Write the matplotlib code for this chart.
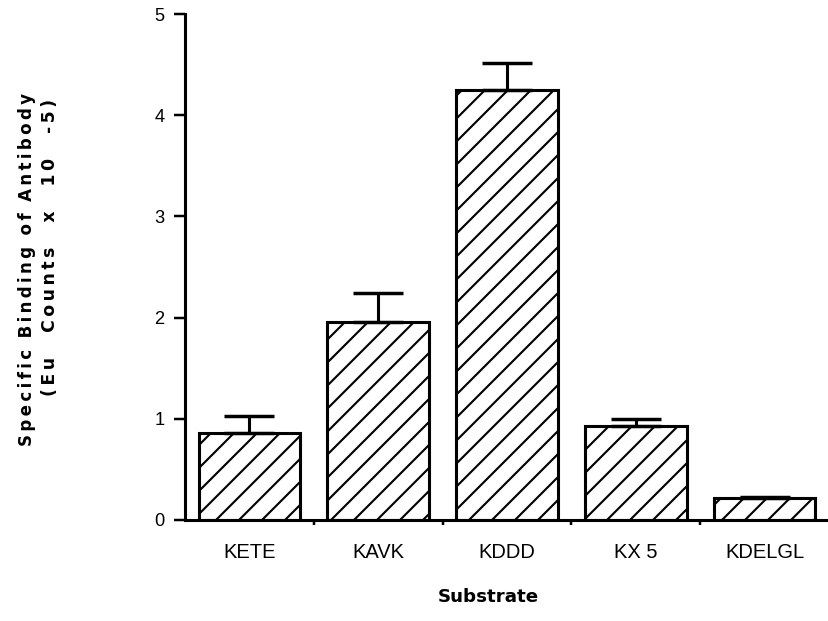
import numpy as np
import matplotlib.pyplot as plt

# data
substrates = ["KETE", "KAVK", "KDDD", "KX 5", "KDELGL"]
binding = [0.86, 1.96, 4.25, 0.93, 0.22]
err_up = [0.17, 0.28, 0.27, 0.07, 0.01]

plt.rcParams['font.family'] = ['Liberation Sans', 'DejaVu Sans']
plt.rcParams['hatch.linewidth'] = 1.1

THIN = '\u2009'


def spaced(words, gap):
    # letter-spaced label, like the old typewriter-style axis title
    return gap.join(THIN.join(w) for w in words)


fig = plt.figure(figsize=(6, 4.5), dpi=138)
ax = fig.add_axes([185 / 828, 1 - 520 / 621, 644 / 828, 506 / 621])

x = np.arange(len(substrates))
ax.bar(x, binding, width=0.79, color='white', edgecolor='black',
       linewidth=1.6, hatch='//', zorder=2)
ax.errorbar(x, binding, yerr=[np.zeros(len(x)), err_up], fmt='none',
            ecolor='black', elinewidth=1.6, capsize=13, capthick=1.8, zorder=3)

ax.set_xlim(-0.5, 4.5)
ax.set_ylim(0, 5)

ax.spines['top'].set_visible(False)
ax.spines['right'].set_visible(False)
ax.spines['left'].set_linewidth(1.6)
ax.spines['bottom'].set_linewidth(1.6)

ax.set_yticks(range(6))
ax.tick_params(axis='y', length=5.7, width=1.3, pad=5, labelsize=9.5)
ax.set_xticks(x)
ax.set_xticklabels(substrates)
ax.tick_params(axis='x', length=0, pad=12, labelsize=10.5)
ax.set_xticks(x[:-1] + 0.5, minor=True)
ax.tick_params(axis='x', which='minor', length=2.6, width=1.3)

lab = dict(rotation=90, ha='center', va='center',
           fontweight='bold', family='DejaVu Sans')
fig.text(27.5 / 828, 1 - 269 / 621,
         spaced(["Specific", "Binding", "of", "Antibody"], '  '),
         fontsize=8.7, **lab)
fig.text(50 / 828, 1 - 247 / 621,
         spaced(["(Eu", "Counts", "x", "10", "-5)"], THIN + '   ' + THIN),
         fontsize=9, **lab)
fig.text(488 / 828, 1 - 597 / 621, "Substrate", ha='center', va='center',
         fontsize=9.5, fontweight='bold', family='DejaVu Sans')

fig.savefig("out.png", dpi=138)
